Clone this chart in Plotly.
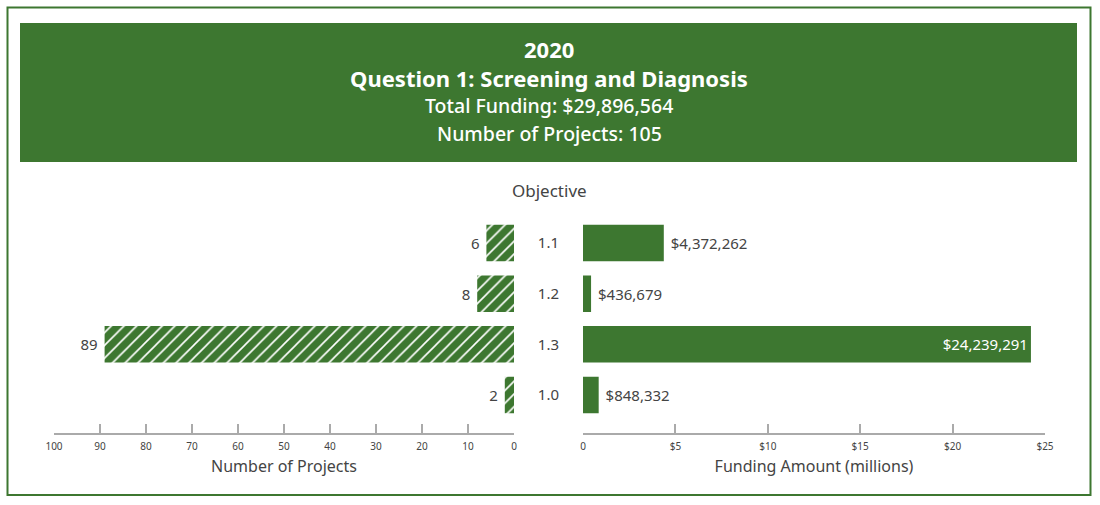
import plotly.graph_objects as go

# chart data
objectives = ['1.1', '1.2', '1.3', '1.0']
num_projects = [6, 8, 89, 2]
funding = [4372262, 436679, 24239291, 848332]
year = '2020'
question = 'Question 1: Screening and Diagnosis'

left_ticks = [100, 90, 80, 70, 60, 50, 40, 30, 20, 10, 0]
right_ticks = [0, 5, 10, 15, 20, 25]
right_ticklabels = ['0', '$5', '$10', '$15', '$20', '$25']

GREEN = '#3d7730'
FONT = 'Noto Sans'
W, H = 1100, 505
NB = '\u00a0'


def px_x(p):
    return p / W


def px_y(p):
    return 1 - p / H


funding_m = [v / 1e6 for v in funding]
# the biggest bar carries its label inside
fund_pos = ['inside' if v == max(funding) else 'outside' for v in funding]
funding_txt = [f'${v:,}' if p == 'inside' else f'{NB}${v:,}'
               for v, p in zip(funding, fund_pos)]

fig = go.Figure()

fig.add_trace(go.Bar(
    y=objectives, x=num_projects, orientation='h', xaxis='x', yaxis='y',
    width=0.72, text=[f'{n}{NB}' for n in num_projects], textposition='outside',
    textfont=dict(family=FONT, size=15, color='#444'), cliponaxis=False,
    marker=dict(color=GREEN, line=dict(width=0),
                pattern=dict(shape='/', bgcolor=GREEN, fgcolor='white',
                             size=9, solidity=0.18, fillmode='replace')),
    showlegend=False, hoverinfo='skip'))

fig.add_trace(go.Bar(
    y=objectives, x=funding_m, orientation='h', xaxis='x2', yaxis='y2',
    width=0.72, text=funding_txt, textposition=fund_pos,
    insidetextanchor='end', constraintext='none',
    insidetextfont=dict(family=FONT, size=15, color='white'),
    outsidetextfont=dict(family=FONT, size=15, color='#444'),
    cliponaxis=False, marker=dict(color=GREEN, line=dict(width=0)),
    showlegend=False, hoverinfo='skip'))

axis_common = dict(
    showgrid=False, zeroline=False, showline=True, linecolor='#aaaaaa',
    linewidth=1.5, ticks='inside', ticklen=9, tickwidth=1.5, tickcolor='#aaaaaa',
    tickfont=dict(family=FONT, size=10, color='#444'), ticklabelstandoff=3,
    automargin=False, anchor='free', position=px_y(434), fixedrange=True)

fig.update_layout(
    width=W, height=H, autosize=False, margin=dict(l=0, r=0, t=0, b=0, pad=0),
    paper_bgcolor='white', plot_bgcolor='white',
    font=dict(family=FONT, color='#444'),
    xaxis=dict(axis_common, domain=[px_x(54), px_x(514)], range=[100, 0],
               tickvals=left_ticks,
               title=dict(text='Number of Projects', standoff=8,
                          font=dict(family=FONT, size=16, color='#444'))),
    xaxis2=dict(axis_common, domain=[px_x(583), px_x(1045)], range=[0, 25],
                tickvals=right_ticks, ticktext=right_ticklabels,
                title=dict(text='Funding Amount (millions)', standoff=8,
                           font=dict(family=FONT, size=16, color='#444'))),
    yaxis=dict(domain=[px_y(420.3), px_y(217.7)], range=[3.5, -0.5],
               anchor='x', showticklabels=False, showgrid=False, automargin=False,
               zeroline=False, showline=False, fixedrange=True),
    yaxis2=dict(domain=[px_y(420.3), px_y(217.7)], range=[3.5, -0.5],
                anchor='x2', side='left', showgrid=False, zeroline=False,
                showline=False, ticks='', ticklabelstandoff=23, automargin=False,
                tickfont=dict(family=FONT, size=15, color='#444'),
                fixedrange=True),
    bargap=0.28,
)

# outer frame and title banner
fig.add_shape(type='rect', xref='paper', yref='paper',
              x0=px_x(7.5), x1=px_x(1090.5), y0=px_y(495), y1=px_y(7.5),
              line=dict(color=GREEN, width=2), fillcolor='rgba(0,0,0,0)', layer='below')
fig.add_shape(type='rect', xref='paper', yref='paper',
              x0=px_x(20), x1=px_x(1077), y0=px_y(162), y1=px_y(23),
              line=dict(width=0), fillcolor=GREEN, layer='below')

total_funding = sum(funding)
total_projects = sum(num_projects)
title_lines = [
    (year, 22, 'bold', 49),
    (question, 22, 'bold', 78),
    (f'Total Funding: ${total_funding:,}', 19.5, 500, 106),
    (f'Number of Projects: {total_projects}', 19.5, 500, 133),
]
for txt, size, weight, ypx in title_lines:
    fig.add_annotation(text=txt, xref='paper', yref='paper', x=px_x(549), y=px_y(ypx),
                       showarrow=False, xanchor='center', yanchor='middle',
                       font=dict(family=FONT, size=size, color='white', weight=weight))

fig.add_annotation(text='Objective', xref='paper', yref='paper', x=px_x(549), y=px_y(190),
                   showarrow=False, xanchor='center', yanchor='middle',
                   font=dict(family=FONT, size=17, color='#444'))

fig.write_html('out.html', config={'displayModeBar': False},
               post_script="document.body.style.margin='0';")
